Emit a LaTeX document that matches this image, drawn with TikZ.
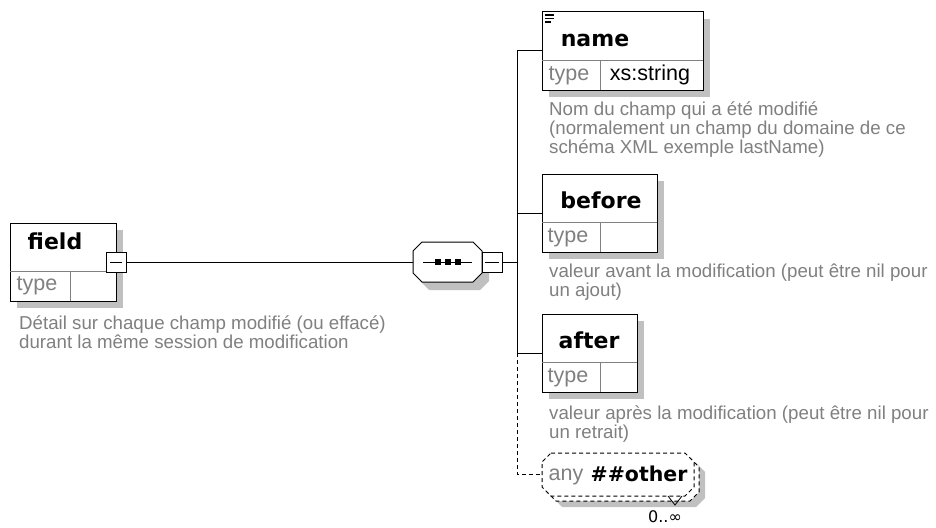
\documentclass[tikz,border=0pt]{standalone}
\usepackage{fontspec}
\setmainfont{Liberation Sans}
\newfontfamily\namefont{DejaVu Sans}
\newfontfamily\symfont{DejaVu Sans}
\usetikzlibrary{shadows}

\definecolor{txtgray}{HTML}{808080}
\definecolor{shadowgray}{HTML}{C0C0C0}

\tikzset{
  wire/.style={line width=1pt, draw=black},
  optwire/.style={wire, dash pattern=on 4pt off 3pt},
  elembox/.style={draw=black, line width=1pt, fill=white, inner sep=0pt, outer sep=0pt,
    anchor=north west, minimum height=78pt,
    drop shadow={shadow xshift=7pt, shadow yshift=-7pt, fill=shadowgray, opacity=1}},
  divider/.style={draw=txtgray, line width=1pt},
  elemname/.style={font=\namefont\bfseries\fontsize{22}{26}\selectfont, anchor=base, inner sep=0pt},
  typelabel/.style={font=\fontsize{21.5}{24}\selectfont, text=txtgray, anchor=base, inner sep=0pt},
  typevalue/.style={typelabel, text=black},
  desc/.style={font=\fontsize{18.7}{19}\selectfont, text=txtgray, align=left,
    anchor=north west, inner sep=0pt},
  collapse/.style={draw=black, line width=1pt, fill=white, minimum size=20pt,
    inner sep=0pt, outer sep=0pt},
  marker/.style={inner sep=0pt, outer sep=0pt},
  % octagon with chamfered corners: x1, y1, x2, y2, chamfer
  octpath/.style n args={5}{insert path={
    (#1+#5,#2) -- (#3-#5,#2) -- (#3,#2+#5) -- (#3,#4-#5) -- (#3-#5,#4)
    -- (#1+#5,#4) -- (#1,#4-#5) -- (#1,#2+#5) -- cycle}}
}

\begin{document}
\begin{tikzpicture}[x=1pt, y=-1pt]
\useasboundingbox (0,0) rectangle (936,527);
\fill[white] (0,0) rectangle (936,527);

% ---------- root element: field ----------
\node[elembox, minimum width=106pt] (field) at (10,223) {};
\draw[divider] ([yshift=-48pt]field.north west) -- ([yshift=-48pt]field.north east);
\draw[divider] ([xshift=60pt,yshift=-48pt]field.north west) -- ([xshift=60pt]field.south west);
\node[elemname] (fieldlbl) at (55,249) {field};
\node[typelabel] (fieldtype) at (37,290) {type};
\node[collapse] (fieldtoggle) at (116,262) {};
\draw[wire] ([xshift=-6pt]fieldtoggle.center) -- ([xshift=6pt]fieldtoggle.center);

\node[desc] (fielddesc) at (19,312) {\rule{0pt}{17pt}Détail sur chaque champ modifié (ou effacé)\\durant la même session de modification};

% ---------- sequence compositor ----------
\fill[shadowgray, octpath={420}{250}{489}{290}{9}];
\draw[wire, fill=white, octpath={413}{242}{482}{282}{9}];
\node[marker, minimum width=69pt, minimum height=40pt] (seq) at (447.5,262) {};
\draw[wire] (423,262) -- (472,262);
\foreach \dx in {438,448,458} \fill (\dx-3.2,262-3.2) rectangle (\dx+3.2,262+3.2);
\node[collapse] (seqtoggle) at (492,262) {};
\draw[wire] ([xshift=-7pt]seqtoggle.center) -- ([xshift=7pt]seqtoggle.center);

\draw[wire] (fieldtoggle.east) -- (seq.west);

% ---------- child: name ----------
\node[elembox, minimum width=161pt] (name) at (542,12) {};
\draw[divider] ([yshift=-49pt]name.north west) -- ([yshift=-49pt]name.north east);
\draw[divider] ([xshift=58pt,yshift=-49pt]name.north west) -- ([xshift=58pt]name.south west);
\draw[line width=1.4pt] (545,15) -- (554,15) (545,18.5) -- (554,18.5) (545,22) -- (551,22);
\node[elemname] (namelbl) at (595,46) {name};
\node[typelabel] (nametype) at (569,80) {type};
\node[typevalue] (namevalue) at (650,80) {xs:string};
\node[desc] (namedesc) at (549,98) {\rule{0pt}{17pt}Nom du champ qui a été modifié\\(normalement un champ du domaine de ce\\schéma XML exemple lastName)};

% ---------- child: before ----------
\node[elembox, minimum width=115pt] (before) at (542,174) {};
\draw[divider] ([yshift=-48pt]before.north west) -- ([yshift=-48pt]before.north east);
\draw[divider] ([xshift=58pt,yshift=-48pt]before.north west) -- ([xshift=58pt]before.south west);
\node[elemname] (beforelbl) at (601,208) {before};
\node[typelabel] (beforetype) at (568,242) {type};
\node[desc] (beforedesc) at (549,260) {\rule{0pt}{17pt}valeur avant la modification (peut être nil pour\\un ajout)};

% ---------- child: after ----------
\node[elembox, minimum width=95pt] (after) at (542,314) {};
\draw[divider] ([yshift=-48pt]after.north west) -- ([yshift=-48pt]after.north east);
\draw[divider] ([xshift=58pt,yshift=-48pt]after.north west) -- ([xshift=58pt]after.south west);
\node[elemname] (afterlbl) at (589,348) {after};
\node[typelabel] (aftertype) at (568,382) {type};
\node[desc] (afterdesc) at (549,402) {\rule{0pt}{17pt}valeur après la modification (peut être nil pour\\un retrait)};

% ---------- optional, repeated wildcard ----------
\fill[shadowgray, octpath={553}{463}{705}{507}{9}];
\draw[optwire, fill=white, octpath={547}{458}{699}{501}{9}];
\draw[optwire, fill=white, octpath={542}{453}{694}{496}{9}];
\node[marker, minimum width=152pt, minimum height=43pt] (anyel) at (618,474.5) {};
\node[typelabel] (anylbl) at (566,480) {any};
\node[elemname, font=\namefont\bfseries\fontsize{20.5}{24}\selectfont] (anyname) at (639,481) {\#\#other};
\draw[line width=0.8pt] (668,496) -- (675,505) -- (682,496);
\node[font=\symfont\fontsize{16}{19}\selectfont, anchor=base, inner sep=0pt] (anyocc) at (665,522) {0..∞};

% ---------- sequence bus ----------
\coordinate (bus) at (517,0);
\draw[wire] (seqtoggle.east) -- (seqtoggle.east -| bus);
\draw[wire] (name.west) -- (name.west -| bus) -- (after.west -| bus) -- (after.west);
\draw[wire] (before.west) -- (before.west -| bus);
\draw[optwire] (after.west -| bus) -- (anyel.west -| bus) -- (anyel.west);
\end{tikzpicture}
\end{document}
